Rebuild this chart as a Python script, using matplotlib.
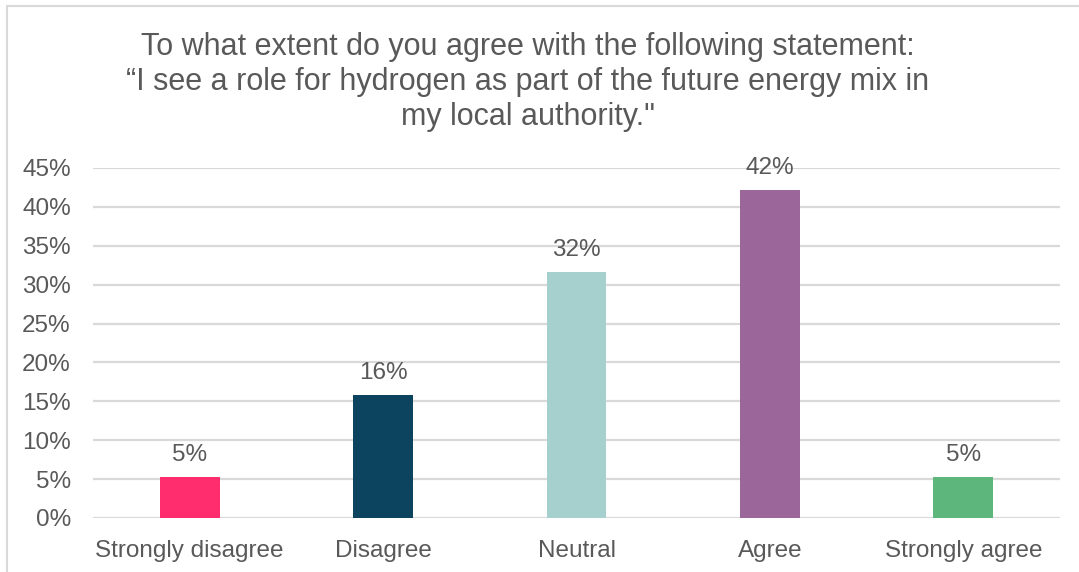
import matplotlib
matplotlib.use("Agg")
import matplotlib.pyplot as plt
from matplotlib.patches import Rectangle
from matplotlib.ticker import FuncFormatter

categories = ["Strongly disagree", "Disagree", "Neutral", "Agree", "Strongly agree"]
shares = [5.26, 15.79, 31.58, 42.11, 5.26]
bar_labels = ["5%", "16%", "32%", "42%", "5%"]
bar_colors = ["#FF2D6E", "#0C4460", "#A5D0CE", "#9B6699", "#5DB77D"]
y_ticks = [0, 5, 10, 15, 20, 25, 30, 35, 40, 45]

title = ("To what extent do you agree with the following statement:\n"
         "\u201cI see a role for hydrogen as part of the future energy mix in\n"
         "my local authority.\"")

text_color = "#595959"
grid_color = "#D9D9D9"

plt.rcParams["font.family"] = ["Liberation Sans", "DejaVu Sans"]

fig = plt.figure(figsize=(10.79, 5.72), dpi=100)
ax = fig.add_axes([93 / 1079, 54 / 572, 967 / 1079, 350 / 572])

x = range(len(categories))
bars = ax.bar(x, shares, width=0.31, color=bar_colors, zorder=3)
for b, lab in zip(bars, bar_labels):
    ax.annotate(lab, (b.get_x() + b.get_width() / 2, b.get_height()),
                xytext=(0, 8), textcoords="offset points",
                ha="center", va="bottom", fontsize=17.5, color=text_color)

ax.set_xlim(-0.5, len(categories) - 0.5)
ax.set_ylim(0, 45)
ax.set_yticks(y_ticks)
ax.yaxis.set_major_formatter(FuncFormatter(lambda v, p: "%d%%" % v))
ax.set_xticks(list(x))
ax.set_xticklabels(categories)
ax.tick_params(axis="both", length=0, labelsize=17.5, colors=text_color)
ax.tick_params(axis="y", pad=16)
ax.tick_params(axis="x", pad=16)
ax.grid(axis="y", color=grid_color, linewidth=1.6, zorder=0)
for s in ax.spines.values():
    s.set_visible(False)

fig.text(528 / 1079, 1 - 82 / 572, title, ha="center", va="center",
         fontsize=22, color=text_color, linespacing=1.22)

# outer chart border (right/bottom edges fall outside the crop)
fig.patches.append(Rectangle((7 / 1079, -0.1), 1.2, 1 - 6 / 572 + 0.1,
                             transform=fig.transFigure, fill=False,
                             edgecolor=grid_color, linewidth=1.5))

fig.savefig("out.png", dpi=100)
